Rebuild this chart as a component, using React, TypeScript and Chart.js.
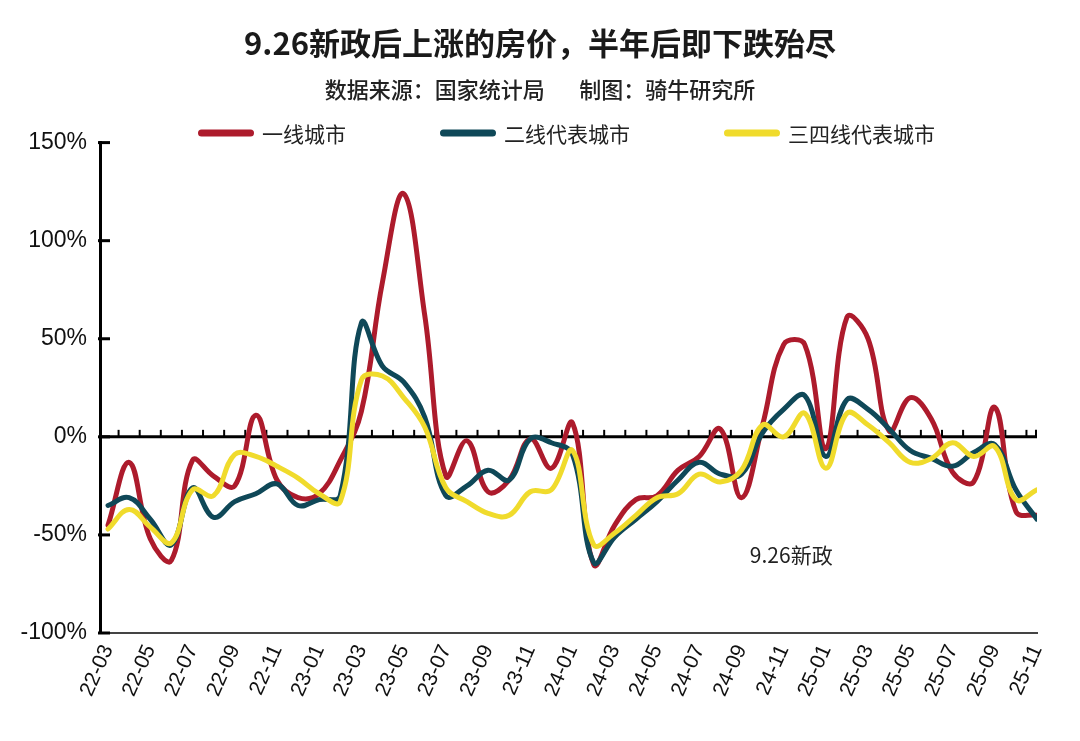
import React, { useEffect, useRef } from 'react';
import { Chart, registerables } from 'chart.js';

Chart.register(...registerables);

// ---- data ----
const months = [
  '22-03', '22-04', '22-05', '22-06', '22-07', '22-08', '22-09', '22-10', '22-11', '22-12',
  '23-01', '23-02', '23-03', '23-04', '23-05', '23-06', '23-07', '23-08', '23-09', '23-10', '23-11', '23-12',
  '24-01', '24-02', '24-03', '24-04', '24-05', '24-06', '24-07', '24-08', '24-09', '24-10', '24-11', '24-12',
  '25-01', '25-02', '25-03', '25-04', '25-05', '25-06', '25-07', '25-08', '25-09', '25-10', '25-11',
];

const tier1 = [
  -45, -13, -52, -63, -12, -20, -25, 11, -22, -31,
  -29, -12, 13, 79, 124, 62, -20, -2, -28, -22, -1, -16,
  7, -65, -45, -32, -30, -17, -10, 4, -31, 6, 47, 47,
  -6, 61, 50, 3, 20, 9, -18, -23, 15, -38, -40,
];

const tier2 = [
  -35, -31, -42, -55, -26, -41, -33, -29, -24, -35,
  -32, -30, 58, 36, 28, 10, -30, -25, -17, -22, -1, -3,
  -9, -64, -51, -42, -33, -22, -13, -19, -19, 2, 14, 21,
  -10, 19, 14, 4, -7, -11, -15, -8, -4, -27, -42,
];

const tier34 = [
  -47, -37, -46, -54, -27, -30, -9, -10, -15, -21,
  -29, -33, 29, 31, 20, 5, -26, -33, -39, -40, -28, -27,
  -7, -55, -49, -40, -31, -29, -19, -23, -17, 6, 0, 12,
  -16, 12, 6, -3, -13, -11, -3, -10, -5, -32, -27,
];

const seriesNames = ['一线城市', '二线代表城市', '三四线代表城市'];
const seriesColors = ['#ad1b2c', '#0f4858', '#f0db2c'];
const yTickValues = [-100, -50, 0, 50, 100, 150];

const titleText = '9.26新政后上涨的房价，半年后即下跌殆尽';
const subtitleText = '数据来源：国家统计局       制图：骑牛研究所';
const noteText = '9.26新政';
const noteX = 30.4;
const noteY = -60;

const CJK = '"Noto Sans CJK SC", "Noto Sans", sans-serif';
const LAT = '"Liberation Sans", Arial, sans-serif';

const decorPlugin = {
  id: 'decor',
  beforeDatasetsDraw(chart: any) {
    const { ctx, chartArea, scales } = chart;
    const x = scales.x;
    const y = scales.y;
    const y0 = y.getPixelForValue(0);
    ctx.save();
    ctx.strokeStyle = '#000';
    ctx.lineWidth = 3;
    ctx.beginPath();
    ctx.moveTo(chartArea.left, y0);
    ctx.lineTo(chartArea.right, y0);
    ctx.stroke();
    ctx.lineWidth = 2;
    for (let i = 0; i < months.length - 1; i++) {
      const px = x.getPixelForValue(i + 0.5);
      ctx.beginPath();
      ctx.moveTo(px, y0);
      ctx.lineTo(px, y0 - 7);
      ctx.stroke();
    }
    ctx.beginPath();
    ctx.moveTo(chartArea.right - 1, y0);
    ctx.lineTo(chartArea.right - 1, y0 - 7);
    ctx.stroke();
    // inward y ticks
    ctx.lineWidth = 3;
    for (const v of yTickValues) {
      const py = y.getPixelForValue(v);
      ctx.beginPath();
      ctx.moveTo(chartArea.left - 2, py);
      ctx.lineTo(chartArea.left + 10, py);
      ctx.stroke();
    }
    ctx.restore();
  },
  afterDraw(chart: any) {
    const { ctx, scales } = chart;
    ctx.save();
    // legend
    ctx.font = `21px ${CJK}`;
    ctx.textBaseline = 'middle';
    ctx.textAlign = 'left';
    let lx = 198;
    const ly = 133;
    chart.data.datasets.forEach((ds: any) => {
      ctx.fillStyle = ds.borderColor;
      ctx.beginPath();
      if (ctx.roundRect) ctx.roundRect(lx, ly - 3.5, 56, 7, 3.5);
      else ctx.rect(lx, ly - 3.5, 56, 7);
      ctx.fill();
      ctx.fillStyle = '#222';
      ctx.fillText(ds.label, lx + 64, ly + 1);
      lx += 64 + ctx.measureText(ds.label).width + 94;
    });
    // note
    ctx.font = `21px ${CJK}`;
    ctx.fillStyle = '#222';
    ctx.fillText(noteText, scales.x.getPixelForValue(noteX), scales.y.getPixelForValue(noteY));
    ctx.restore();
  },
};

export default function App() {
  const ref = useRef<HTMLCanvasElement | null>(null);

  useEffect(() => {
    if (!ref.current) return;
    const mk = (vals: number[]) => vals.map((v, i) => ({ x: i, y: v }));
    const all = [tier1, tier2, tier34];
    const chart = new Chart(ref.current, {
      type: 'line',
      data: {
        datasets: all.map((vals, k) => ({
          label: seriesNames[k],
          data: mk(vals),
          borderColor: seriesColors[k],
          backgroundColor: seriesColors[k],
          borderWidth: 5,
          pointRadius: 0,
          tension: 0.4,
          fill: false,
          order: 3 - k,
          borderCapStyle: 'round',
          borderJoinStyle: 'round',
        })),
      },
      options: {
        responsive: false,
        animation: false,
        events: [],
        layout: { padding: { left: 0, right: 0, top: 0, bottom: 0 } },
        plugins: {
          legend: { display: false },
          tooltip: { enabled: false },
          title: {
            display: true,
            text: titleText,
            color: '#1a1a1a',
            font: { family: CJK, size: 31, weight: 'bold', lineHeight: 1.2 },
            padding: { top: 25, bottom: 6 },
          },
          subtitle: {
            display: true,
            text: subtitleText,
            color: '#222',
            font: { family: CJK, size: 22, weight: 500, lineHeight: 1.2 },
            padding: { top: 8, bottom: 40 },
          },
        },
        scales: {
          x: {
            type: 'linear',
            min: -0.38,
            max: 44,
            grid: { display: false, drawTicks: false },
            border: { display: true, color: '#444', width: 2 },
            afterBuildTicks: (s: any) => {
              s.ticks = months.map((_, i) => ({ value: i })).filter((t) => t.value % 2 === 0);
            },
            afterFit: (s: any) => {
              s.height = 108;
            },
            ticks: {
              autoSkip: false,
              minRotation: 66,
              maxRotation: 66,
              padding: 8,
              color: '#111',
              font: { family: LAT, size: 21 },
              callback: (v: any) => months[v] ?? '',
            },
          },
          y: {
            min: -100,
            max: 150,
            grid: { display: false, drawTicks: false },
            border: { display: true, color: '#000', width: 3 },
            afterFit: (s: any) => {
              s.width = 100;
            },
            afterBuildTicks: (s: any) => {
              s.ticks = yTickValues.map((v) => ({ value: v }));
            },
            ticks: {
              padding: 13,
              color: '#111',
              font: { family: LAT, size: 23 },
              callback: (v: any) => `${v}%`,
            },
          },
          spacer: {
            type: 'linear',
            position: 'right',
            display: true,
            grid: { display: false, drawTicks: false },
            border: { display: false },
            ticks: { display: false },
            afterFit: (s: any) => {
              s.width = 43;
            },
          },
        },
      },
      plugins: [decorPlugin],
    } as any);
    return () => chart.destroy();
  }, []);

  return (
    <div style={{ position: 'fixed', left: 0, top: 0, width: 1080, height: 741, background: '#fff' }}>
      <canvas ref={ref} width={1080} height={741} style={{ width: 1080, height: 741, display: 'block' }} />
    </div>
  );
}
